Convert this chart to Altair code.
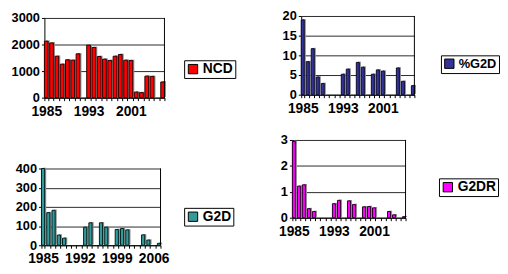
import altair as alt
import pandas as pd

years = [1985, 1986, 1987, 1988, 1989, 1990, 1991, 1992, 1993, 1994, 1995, 1996,
         1997, 1998, 1999, 2000, 2001, 2002, 2003, 2004, 2005, 2006, 2007]
ncd = [2125, 2060, 1560, 1260, 1425, 1410, 1650, None, 1975, 1890, 1550, 1450,
       1400, 1560, 1625, 1410, 1400, 210, 190, 810, 800, None, 590]
pct_g2d = [19.0, 8.4, 11.7, 4.5, 2.85, None, None, None, 5.2, 6.5, None, 8.2,
           7.0, None, 5.2, 6.3, 6.0, None, None, 6.8, 3.4, None, 2.3]
g2d = [400, 170, 182, 53, 37, None, None, None, 94, 117, None, 117,
       94, None, 82, 87, 80, None, None, 54, 27, None, 10]
g2dr = [2.94, 1.22, 1.27, 0.35, 0.24, None, None, None, 0.54, 0.67, None, 0.65,
        0.51, None, 0.42, 0.43, 0.38, None, None, 0.24, 0.11, None, 0.04]

labels_a = [1985, 1993, 2001]
labels_b = [1985, 1992, 1999, 2006]

df = pd.DataFrame({"year": years, "NCD": ncd, "PG2D": pct_g2d, "G2D": g2d, "G2DR": g2dr})

W, H = 500, 260
FONT = "Liberation Sans"


def panel(field, name, color, dark, xr, yr, ydom, yticks, xlabels, lx, ly, pin, lfs=14):
    xscale = alt.Scale(domain=years, range=xr, paddingInner=pin, paddingOuter=0)
    xaxis = alt.Axis(orient="bottom", offset=yr[0] - H, title=None, tickBand="extent",
                     labelAngle=0, labelOverlap=False, labelFontSize=14, labelPadding=4,
                     labelExpr=f"indexof({xlabels}, datum.value) >= 0 ? datum.label : ''")
    yscale = alt.Scale(domain=ydom, range=yr, nice=False, zero=True)
    yaxis = alt.Axis(orient="left", offset=-xr[0], title=None, values=yticks, format="d",
                     grid=True, labelFontSize=13, labelPadding=2)
    base = alt.Chart(df)
    x = alt.X("year:O", scale=xscale, axis=xaxis)
    y = alt.Y(f"{field}:Q", scale=yscale, axis=yaxis)
    shadow = base.mark_bar(color="#8f8f8f", xOffset=1.6, yOffset=-0.8).encode(x=x, y=y)
    bars = base.transform_calculate(series=f"'{name}'").mark_bar(
        stroke=dark, strokeWidth=1).encode(
        x=x, y=y,
        color=alt.Color("series:N",
                        scale=alt.Scale(domain=[name], range=[color]),
                        legend=alt.Legend(orient="none", legendX=lx, legendY=ly, title=None,
                                          symbolType="square", symbolSize=90,
                                          symbolStrokeColor="black", symbolStrokeWidth=1,
                                          labelFont=FONT, labelFontSize=lfs,
                                          labelFontWeight="bold", labelColor="black",
                                          strokeColor="black", fillColor="white",
                                          padding=2, labelOffset=3)),
    )
    border = base.transform_filter(alt.datum.year == years[-1]).mark_rule(
        color="black", strokeWidth=1).encode(
        x=alt.X("year:O", scale=xscale, axis=xaxis, bandPosition=1),
        y=alt.YDatum(ydom[0], type="quantitative", scale=yscale, axis=yaxis),
        y2=alt.Y2Datum(ydom[1]),
    )
    return alt.layer(shadow, bars, border)


p1 = panel("NCD", "NCD", "#ff0000", "#2a0000", [37, 159], [89, 8], [0, 3000],
           [0, 1000, 2000, 3000], labels_a, 179, 51, 0.3)
p2 = panel("PG2D", "%G2D", "#333399", "#0a0a2a", [298, 413], [86, 6], [0, 20],
           [0, 5, 10, 15, 20], labels_a, 440, 46, 0.4, lfs=13)
p3 = panel("G2D", "G2D", "#339999", "#002020", [34, 155], [239, 161], [0, 400],
           [0, 100, 200, 300, 400], labels_b, 179, 201, 0.4)
p4 = panel("G2DR", "G2DR", "#ff00ff", "#2a002a", [289, 404], [211, 132], [0, 3],
           [0, 1, 2, 3], labels_a, 438, 171, 0.4)

chart = alt.layer(p1, p2, p3, p4).resolve_scale(
    x="independent", y="independent", color="independent"
).properties(
    width=W, height=H, autosize=alt.AutoSizeParams(type="none"), padding=0
).configure_view(strokeWidth=0).configure_axis(
    labelFont=FONT, labelFontWeight="bold", labelColor="black",
    domainColor="black", domainWidth=1, tickColor="black", tickSize=3,
    gridColor="#2a2a2a", gridWidth=1,
)

chart.save("out.html", embed_options={"renderer": "svg", "actions": False})
